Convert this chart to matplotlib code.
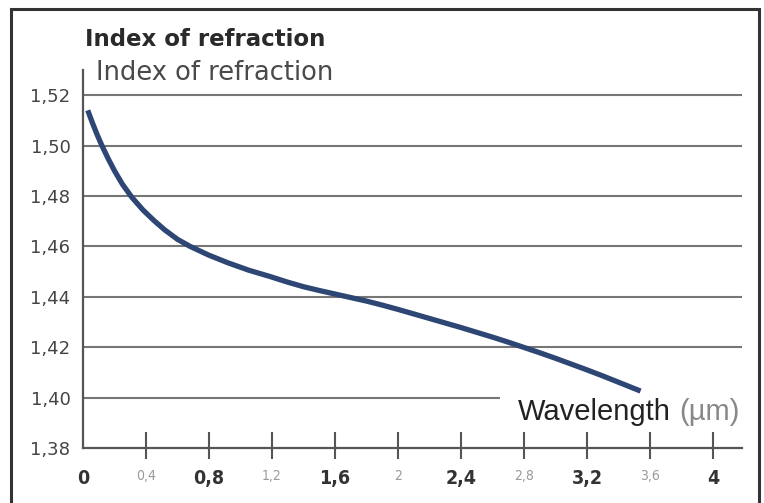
import matplotlib
matplotlib.use("Agg")
import matplotlib.pyplot as plt
from matplotlib.patches import Rectangle

# Data (wavelength in µm, refractive index)
wavelength = [0.03, 0.06, 0.09, 0.12, 0.16, 0.20, 0.25, 0.31, 0.38, 0.45, 0.52, 0.60, 0.68,
              0.80, 0.92, 1.05, 1.19, 1.30, 1.40, 1.50, 1.60, 1.70, 1.80, 1.90, 2.00,
              2.10, 2.20, 2.30, 2.40, 2.50, 2.60, 2.70, 2.80, 2.90, 3.00, 3.10, 3.20,
              3.30, 3.40, 3.50, 3.54]
n_index = [1.5140, 1.5090, 1.5043, 1.5000, 1.4948, 1.4900, 1.4847, 1.4795, 1.4745, 1.4703,
           1.4665, 1.4628, 1.4600, 1.4565, 1.4535, 1.4506, 1.4480, 1.4458, 1.4440, 1.4425,
           1.4411, 1.4397, 1.4383, 1.4367, 1.4350, 1.4332, 1.4314, 1.4296, 1.4278, 1.4259,
           1.4240, 1.4220, 1.4199, 1.4178, 1.4156, 1.4133, 1.4110, 1.4086, 1.4061, 1.4036,
           1.4026]

y_ticks = [1.38, 1.40, 1.42, 1.44, 1.46, 1.48, 1.50, 1.52]
y_labels = ["1,38", "1,40", "1,42", "1,44", "1,46", "1,48", "1,50", "1,52"]
x_ticks = [0, 0.4, 0.8, 1.2, 1.6, 2.0, 2.4, 2.8, 3.2, 3.6, 4.0]
x_labels = ["0", "0,4", "0,8", "1,2", "1,6", "2", "2,4", "2,8", "3,2", "3,6", "4"]

W, H = 764, 503
fig = plt.figure(figsize=(W / 100, H / 100), dpi=100)
fig.patch.set_facecolor("white")

# axes geometry in pixels
x0_px, x1_px = 83, 742
y_bot_px, y_top_px = 448, 70
ax = fig.add_axes([x0_px / W, (H - y_bot_px) / H, (x1_px - x0_px) / W, (y_bot_px - y_top_px) / H])
px_per_unit = 157.5
px_per_y = 50.4 / 0.02
ax.set_xlim(0, (x1_px - x0_px) / px_per_unit)
ax.set_ylim(1.38, 1.38 + (y_bot_px - y_top_px) / px_per_y)

for s in ["top", "right"]:
    ax.spines[s].set_visible(False)
ax.spines["left"].set_color("#555555")
ax.spines["left"].set_linewidth(1.6)
ax.spines["bottom"].set_color("#555555")
ax.spines["bottom"].set_linewidth(1.6)

# grid lines
for yv in y_ticks[1:]:
    if yv == 1.40:
        ax.hlines(yv, 0, 2.65, color="#767676", lw=1.5, zorder=1)
    else:
        ax.axhline(yv, color="#767676", lw=1.5, zorder=1)

# curve
ax.plot(wavelength, n_index, color="#2d4674", lw=3.8, solid_capstyle="butt",
        solid_joinstyle="round", zorder=3)

# x tick marks (custom, crossing the axis)
tick_lo = 1.38 - 11 / px_per_y
tick_hi = 1.38 + 16 / px_per_y
ax.vlines(x_ticks[1:], tick_lo, tick_hi, color="#555555", lw=1.5, clip_on=False, zorder=2)

ax.set_xticks(x_ticks)
ax.set_xticklabels(x_labels)
ax.tick_params(axis="x", length=0, pad=15)
for i, lab in enumerate(ax.get_xticklabels()):
    lab.set_fontfamily("DejaVu Sans")
    lab.set_fontstretch("condensed")
    if i % 2 == 0:
        lab.set_fontsize(14)
        lab.set_color("#333333")
        lab.set_fontweight("bold")
    else:
        lab.set_fontsize(10)
        lab.set_color("#9a9a9a")

ax.set_yticks(y_ticks)
ax.set_yticklabels(y_labels)
ax.tick_params(axis="y", length=0, pad=9)
for lab in ax.get_yticklabels():
    lab.set_fontfamily("DejaVu Sans")
    lab.set_fontsize(13)
    lab.set_color("#444444")

# titles
fig.text(85 / W, 1 - 40 / H, "Index of refraction", fontsize=16.5, fontweight="bold",
         color="#2a2a2a", va="center", ha="left", family="DejaVu Sans")
fig.text(96 / W, 1 - 73 / H, "Index of refraction", fontsize=18.5,
         color="#4a4a4a", va="center", ha="left", family="DejaVu Sans")

# axis label
fig.text(518 / W, 1 - 420 / H, "Wavelength", fontsize=21, color="#222222",
         va="baseline", ha="left", family="Liberation Sans")
fig.text(740 / W, 1 - 420 / H, "(µm)", fontsize=21, color="#888888",
         va="baseline", ha="right", family="Liberation Sans")

# outer frame
fig.patches.append(Rectangle((11 / W, -0.02), (759 - 11) / W, 1 - 9 / H + 0.02,
                             transform=fig.transFigure, fill=False,
                             edgecolor="#333333", lw=2.2))

fig.savefig("out.png", dpi=100, facecolor="white")
